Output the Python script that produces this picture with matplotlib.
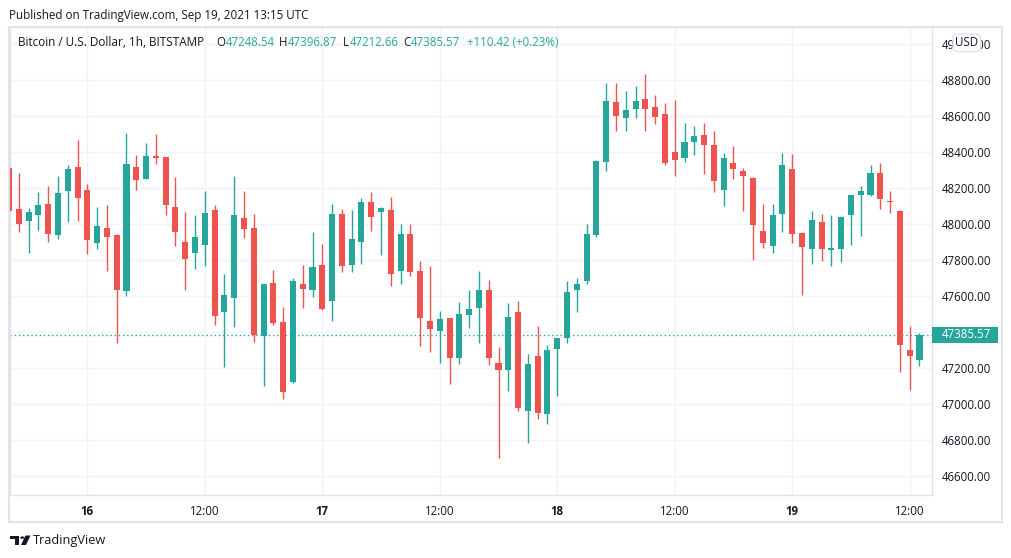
import matplotlib
matplotlib.use("Agg")
import matplotlib.pyplot as plt
import matplotlib.transforms as mtransforms
from matplotlib.patches import Rectangle, FancyBboxPatch, Polygon, Circle

# ---------------- data (hour offset from Sep 16 00:00 UTC) ----------------
hours = list(range(-8, 86))
opens = [48311, 48085, 48020, 48052, 48113, 47942, 48187, 48318,
         48191, 47898, 47979, 47941, 47631, 48318, 48253, 48379, 48374, 48096, 47902, 47842,
         47887, 48079, 47514, 47592, 48035, 47979, 47381, 47674, 47457, 47126, 47668, 47637,
         47774, 47576, 48057, 47776, 47903, 48124, 48070, 48079, 47742, 47946, 47741, 47463,
         47409, 47479, 47259, 47498, 47537, 47635, 47229, 47192, 47513, 46964, 47268, 46948,
         47309, 47370, 47637, 47687, 47942, 48348, 48679, 48592, 48642, 48696, 48652, 48613,
         48402, 48370, 48459, 48496, 48441, 48192, 48341, 48296, 48257, 47963, 47881, 48059,
         48307, 47952, 47864, 48013, 47859, 47864, 48052, 48164, 48164, 48285, 48129, 48074,
         47303, 47248.54]
highs = [48330, 48287, 48091, 48179, 48213, 48268, 48329, 48468,
         48224, 48096, 48107, 47945, 48507, 48385, 48451, 48501, 48376, 48263, 48068, 48052,
         48185, 48107, 47724, 48268, 48185, 48057, 47670, 47746, 47542, 47702, 47774, 47957,
         47891, 48113, 48085, 48079, 48146, 48179, 48096, 48152, 48002, 48002, 47796, 47768,
         47518, 47481, 47568, 47635, 47741, 47691, 47320, 47563, 47574, 47279, 47434, 47329,
         47370, 47685, 47702, 48002, 48357, 48785, 48785, 48740, 48768, 48835, 48718, 48674,
         48690, 48562, 48546, 48562, 48518, 48396, 48435, 48314, 48260, 48113, 48113, 48396,
         48391, 47955, 48074, 48057, 48052, 48045, 48165, 48213, 48329, 48341, 48185, 48077,
         47437, 47396.87]
lows = [48060, 47959, 47842, 47970, 47903, 47920, 48014, 48020,
        47837, 47864, 47742, 47339, 47603, 48192, 48250, 48337, 48053, 47881, 47637, 47753,
        47770, 47442, 47209, 47431, 47926, 47348, 47103, 47442, 47031, 47120, 47537, 47598,
        47526, 47464, 47737, 47737, 47781, 47964, 47831, 47659, 47670, 47714, 47326, 47293,
        47231, 47114, 47226, 47426, 47342, 47220, 46703, 47075, 46964, 46787, 46920, 46892,
        47048, 47342, 47514, 47670, 47931, 48298, 48520, 48520, 48592, 48520, 48559, 48331,
        48270, 48348, 48387, 48281, 48181, 48103, 48253, 48076, 47803, 47870, 47842, 47959,
        47898, 47609, 47781, 47798, 47770, 47792, 47887, 47937, 48159, 48087, 48064, 47181,
        47081, 47212.66]
closes = [48076, 48002, 48068, 48107, 47948, 48174, 48307, 48148,
          47915, 47991, 47931, 47637, 48335, 48248, 48379, 48370, 48109, 47959, 47809, 47930,
          48063, 47492, 47607, 48052, 47976, 47387, 47668, 47452, 47070, 47685, 47642, 47763,
          47531, 48057, 47770, 47918, 48124, 48042, 48090, 47726, 47946, 47737, 47481, 47420,
          47474, 47259, 47502, 47529, 47635, 47259, 47192, 47485, 46981, 47224, 46953, 47302,
          47368, 47624, 47668, 47946, 48352, 48685, 48603, 48635, 48685, 48642, 48598, 48342,
          48359, 48457, 48490, 48442, 48242, 48368, 48309, 48270, 47998, 47898, 48052, 48329,
          47948, 47876, 48024, 47864, 47864, 48041, 48163, 48185, 48285, 48142, 48124, 47331,
          47270, 47385.57]

price_ticks = [46600, 46800, 47000, 47200, 47400, 47600, 47800, 48000,
               48200, 48400, 48600, 48800, 49000]
time_ticks = [0, 12, 24, 36, 48, 60, 72, 84]
time_labels = ["16", "12:00", "17", "12:00", "18", "12:00", "19", "12:00"]
last_close = 47385.57
change_text = "+110.42 (+0.23%)"

# ---------------- style ----------------
UP = "#26a69a"
DOWN = "#ef5350"
TXT = "#131722"
GRID = "#f0f3fa"
BORDER = "#e0e3eb"
FONT = "Open Sans"
FS = 8.3

W, H = 1012, 558
fig = plt.figure(figsize=(W / 100, H / 100), dpi=100)
fig.patch.set_facecolor("white")


def fx(px):
    return px / W


def fy(py):
    return 1 - py / H


ax = fig.add_axes([fx(10), fy(495), fx(932) - fx(10), fy(27) - fy(495)])
ax.set_facecolor("white")
ax.set_xlim(-7.9, 86.28)
ax.set_ylim(46496, 49096)

# candles
for h, o, hi, lo, c in zip(hours, opens, highs, lows, closes):
    col = UP if c >= o else DOWN
    ax.vlines(h, lo, hi, color=col, lw=1.0, zorder=3)
    bottom = min(o, c)
    height = max(abs(c - o), 7)
    ax.bar(h, height, bottom=bottom, width=0.62, color=col, lw=0, zorder=4)

# last price line
ax.axhline(last_close, color=UP, lw=1.0, ls=(0, (1, 2)), zorder=2)

# grid & axes
ax.set_xticks(time_ticks)
ax.set_xticklabels(time_labels)
ax.set_yticks(price_ticks)
ax.set_yticklabels([f"{v:.2f}" for v in price_ticks])
ax.grid(True, color=GRID, lw=1.0)
ax.set_axisbelow(True)
ax.yaxis.tick_right()
ax.tick_params(axis="y", length=0, pad=7, labelsize=FS, labelcolor=TXT)
ax.tick_params(axis="x", length=0, pad=7, labelsize=FS, labelcolor=TXT)
for lab in ax.get_yticklabels() + ax.get_xticklabels():
    lab.set_fontfamily(FONT)
for lab, t in zip(ax.get_xticklabels(), time_labels):
    if ":" not in t:
        lab.set_fontweight("bold")
for sp in ax.spines.values():
    sp.set_color(BORDER)
    sp.set_linewidth(1.0)

# outer frame
fig.add_artist(Rectangle((fx(9.5), fy(522)), fx(1002) - fx(9.5), fy(27) - fy(522),
                         transform=fig.transFigure, fill=False, edgecolor=BORDER, lw=1.5))

# last price tag on price axis
blend = mtransforms.blended_transform_factory(ax.transAxes, ax.transData)
axw = 922.0
tag_h = 16 / 0.18
ax.add_patch(Rectangle((1.0, last_close - tag_h / 2), 66 / axw, tag_h, transform=blend,
                       facecolor=UP, edgecolor="none", clip_on=False, zorder=10))
ax.text(1.0 + 10 / axw, last_close, f"{last_close:.2f}", transform=blend, color="white",
        fontsize=FS, family=FONT, va="center", ha="left", clip_on=False, zorder=11)

# USD box
fig.add_artist(FancyBboxPatch((fx(953), fy(51.5)), fx(980.5) - fx(953), fy(34) - fy(51.5),
                              boxstyle="round,pad=0,rounding_size=0.006",
                              transform=fig.transFigure, facecolor="white",
                              edgecolor=BORDER, lw=1.0, zorder=20))
fig.text(fx(966.8), fy(43), "USD", ha="center", va="center", fontsize=FS, family=FONT,
         color=TXT, zorder=21)

# header
fig.text(fx(9.5), fy(15), "Published on TradingView.com, Sep 19, 2021 13:15 UTC",
         ha="left", va="center", fontsize=8.37, family=FONT, color=TXT)
fig.text(fx(18), fy(42), "Bitcoin / U.S. Dollar, 1h, BITSTAMP", ha="left", va="center",
         fontsize=8.5, family=FONT, color=TXT)

renderer = fig.canvas.get_renderer()
groups = [(216.7, "O", f"{opens[-1]:.2f}"),
          (279.3, "H", f"{highs[-1]:.2f}"),
          (343.3, "L", f"{lows[-1]:.2f}"),
          (403.3, "C", f"{closes[-1]:.2f}")]
for px, letter, val in groups:
    t = fig.text(fx(px), fy(42), letter, ha="left", va="center", fontsize=FS,
                 family=FONT, color=TXT)
    bb = t.get_window_extent(renderer)
    fig.text(bb.x1 / W + 0.3 / W, fy(42), val, ha="left", va="center", fontsize=FS,
             family=FONT, color=UP)
fig.text(fx(467.3), fy(42), change_text, ha="left", va="center", fontsize=FS,
         family=FONT, color=UP)

# TradingView logo (bottom-left)
logo = "#131722"
fig.add_artist(Polygon([(fx(10), fy(535.5)), (fx(19.5), fy(535.5)), (fx(19.5), fy(545)),
                        (fx(15.5), fy(545)), (fx(15.5), fy(539)), (fx(10), fy(539))],
                       closed=True, transform=fig.transFigure, facecolor=logo, edgecolor="none"))
fig.add_artist(Circle((fx(22.3), fy(537.6)), 2.1 / W, transform=fig.transFigure,
                      facecolor=logo, edgecolor="none"))
fig.add_artist(Polygon([(fx(25.5), fy(535.5)), (fx(30.5), fy(535.5)), (fx(26), fy(545)),
                        (fx(21), fy(545))],
                       closed=True, transform=fig.transFigure, facecolor=logo, edgecolor="none"))
fig.text(fx(33), fy(540.5), "TradingView", ha="left", va="center", fontsize=9.2,
         family=FONT, color=TXT)

fig.savefig("out.png", dpi=100, facecolor="white")
